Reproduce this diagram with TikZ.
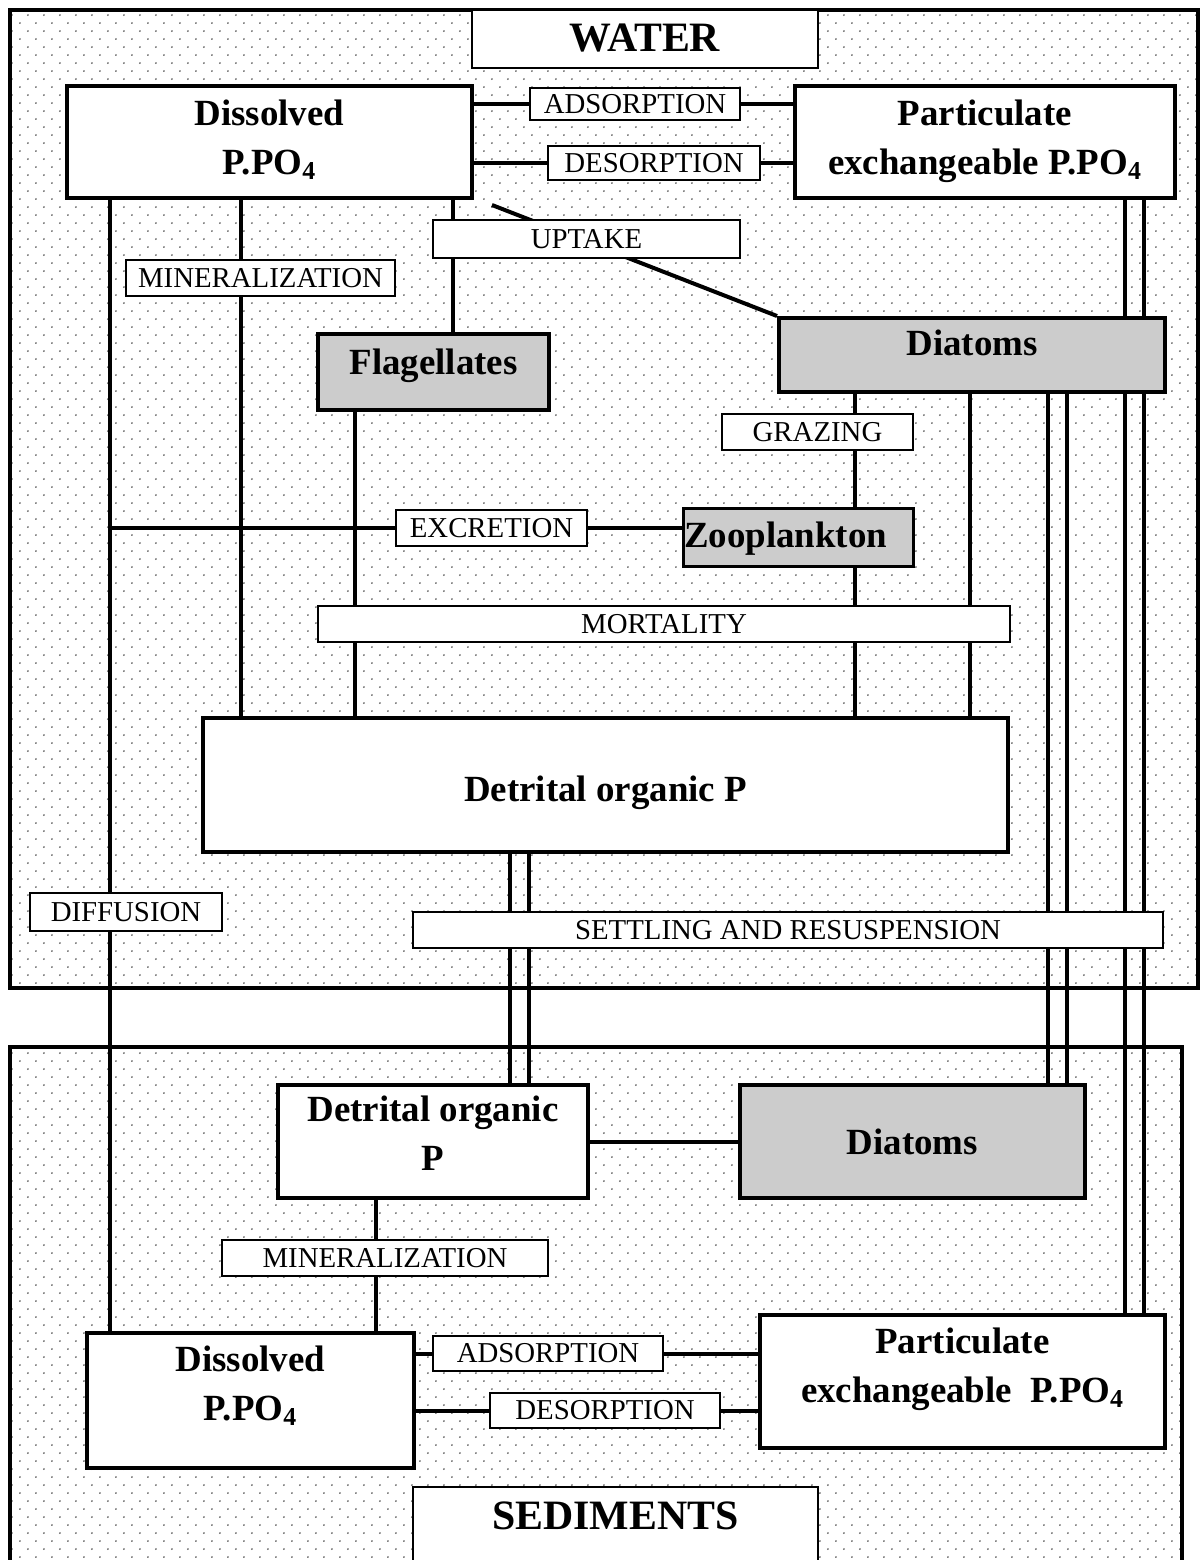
\documentclass[tikz,border=0pt]{standalone}
\usepackage{fontspec}
\setmainfont{Liberation Serif}
\usetikzlibrary{patterns,calc}
\definecolor{plankgray}{HTML}{CCCCCC}
\definecolor{dotgray}{HTML}{555555}
\pgfdeclarepatternformonly{sparse dots}{\pgfpointorigin}{\pgfqpoint{9.07pt}{9.07pt}}{\pgfqpoint{9.07pt}{9.07pt}}{%
  \pgfpathcircle{\pgfqpoint{2.27pt}{2.27pt}}{0.55pt}%
  \pgfpathcircle{\pgfqpoint{6.8pt}{6.8pt}}{0.55pt}%
  \pgfusepath{fill}}
\pgfdeclarelayer{frame}
\pgfdeclarelayer{edges}
\pgfsetlayers{frame,edges,main}
\newcommand{\boxfont}{\fontsize{21}{27.8}\selectfont\bfseries}
\newcommand{\procfont}{\fontsize{16.4}{19}\selectfont}
\newcommand{\titlefont}{\fontsize{23.8}{28}\selectfont\bfseries}
\tikzset{
  realm/.style={line width=0.09cm,preaction={fill=white},
    pattern=sparse dots,pattern color=dotgray},
  compartment/.style={draw,line width=0.08cm,fill=white,font=\boxfont,
    align=center,inner sep=0pt,text height=0.5cm,text depth=0pt},
  living compartment/.style={compartment,fill=plankgray},
  process label/.style={draw,line width=0.03cm,fill=white,font=\procfont,
    inner sep=0pt},
  realm title/.style={draw,line width=0.05cm,fill=white,font=\titlefont,
    inner sep=0pt,text height=0.56cm},
  flow/.style={line width=0.08cm}
}

\begin{document}
\begin{tikzpicture}[x=0.02cm,y=-0.02cm]
    \useasboundingbox (0,0) rectangle (1200,1560);
    % water column and sediment layer
    \begin{pgfonlayer}{frame}
      \draw[realm] (10,10) rectangle (1198,988);
      \draw[realm] (10,1047) rectangle (1182,1590);
    \end{pgfonlayer}
    \node[realm title,minimum width=6.92cm,minimum height=1.16cm,
      text depth=0.06cm] (watertitle) at (645,39) {WATER};
    \node[realm title,minimum width=8.1cm,minimum height=1.6cm,
      text depth=0.48cm] (sedtitle) at (615.5,1527) {SEDIMENTS};
    % water compartments
    \node[compartment,minimum width=8.1cm,minimum height=2.24cm,
      text height=1.28cm] (dipw) at (269.5,142) {Dissolved\\P.PO\textsubscript{4}};
    \node[compartment,minimum width=7.6cm,minimum height=2.24cm,
      text height=1.28cm] (pipw) at (985,142)
      {Particulate\\exchangeable P.PO\textsubscript{4}};
    \node[living compartment,minimum width=4.62cm,minimum height=1.52cm,
      text depth=0.4cm] (flaw) at (433.5,372) {Flagellates};
    \node[living compartment,minimum width=7.72cm,minimum height=1.48cm,
      text depth=0.48cm] (diaw) at (972,355) {Diatoms};
    \node[living compartment,line width=0.06cm,minimum width=4.62cm,
      minimum height=1.16cm,text width=4.58cm,align=left,
      text depth=0.1cm] (zoow) at (798.5,537) {Zooplankton};
    \node[compartment,minimum width=16.1cm,minimum height=2.68cm,
      text height=0.66cm] (detw) at (605.5,785) {Detrital organic P};
    % sediment compartments
    \node[compartment,minimum width=6.2cm,minimum height=2.26cm,
      text height=1.14cm] (dets) at (433,1141.5) {Detrital organic\\P};
    \node[living compartment,minimum width=6.9cm,minimum height=2.26cm]
      (dias) at (912.5,1141.5) {Diatoms};
    \node[compartment,minimum width=6.54cm,minimum height=2.7cm,
      text height=0.78cm] (dips) at (250.5,1400.5) {Dissolved\\P.PO\textsubscript{4}};
    \node[compartment,minimum width=8.1cm,minimum height=2.66cm,
      text height=0.82cm] (pips) at (962.5,1381.5)
      {Particulate\\exchangeable~ P.PO\textsubscript{4}};
    % process labels
    \node[process label,minimum width=4.2cm,minimum height=0.64cm] (adsw) at (635,104) {ADSORPTION};
    \node[process label,minimum width=4.24cm,minimum height=0.68cm] (desw) at (654,163) {DESORPTION};
    \node[process label,minimum width=6.14cm,minimum height=0.76cm] (uptw) at (586.5,239) {UPTAKE};
    \node[process label,minimum width=5.38cm,minimum height=0.72cm] (minw) at (260.5,278) {MINERALIZATION};
    \node[process label,minimum width=3.82cm,minimum height=0.72cm] (grzw) at (817.5,432) {GRAZING};
    \node[process label,minimum width=3.82cm,minimum height=0.72cm] (excw) at (491.5,528) {EXCRETION};
    \node[process label,minimum width=13.84cm,minimum height=0.72cm] (morw) at (664,624) {MORTALITY};
    \node[process label,minimum width=3.84cm,minimum height=0.76cm] (difw) at (126,912) {DIFFUSION};
    \node[process label,minimum width=15cm,minimum height=0.72cm] (setw) at (788,930) {SETTLING AND RESUSPENSION};
    \node[process label,minimum width=6.52cm,minimum height=0.72cm] (mins) at (385,1258) {MINERALIZATION};
    \node[process label,minimum width=4.6cm,minimum height=0.7cm] (adss) at (548,1353.5) {ADSORPTION};
    \node[process label,minimum width=4.6cm,minimum height=0.7cm] (dess) at (605,1410.5) {DESORPTION};
    % vertical flow positions
    \foreach \n/\x in {dif/110,min/241,fla/355,upt/453,det1/510,det2/529,
      zoo/855,dia/970,set1/1048,set2/1067,exc1/1125,exc2/1144,minsed/376}
      \coordinate (x\n) at (\x,0);
    \begin{pgfonlayer}{edges}
      \draw[flow] (dipw.east |- adsw) -- (pipw.west |- adsw);
      \draw[flow] (dipw.east |- desw) -- (pipw.west |- desw);
      \draw[flow] ($(dipw.south east)+(18,5)$) -- (diaw.north west);
      \foreach \a/\b/\x in {dipw/dips/xdif,dipw/detw/xmin,flaw/detw/xfla,
        dipw/flaw/xupt,diaw/zoow/xzoo,zoow/detw/xzoo,diaw/detw/xdia,
        detw/dets/xdet1,detw/dets/xdet2,diaw/dias/xset1,diaw/dias/xset2,
        pipw/pips/xexc1,pipw/pips/xexc2,dets/dips/xminsed}
        \draw[flow] (\a.south -| \x) -- (\b.north -| \x);
      \draw[flow] (xdif |- excw) -- (zoow.west |- excw);
      \draw[flow] (dets) -- (dias);
      \draw[flow] (dips.east |- adss) -- (pips.west |- adss);
      \draw[flow] (dips.east |- dess) -- (pips.west |- dess);
    \end{pgfonlayer}
  \end{tikzpicture}
\end{document}
